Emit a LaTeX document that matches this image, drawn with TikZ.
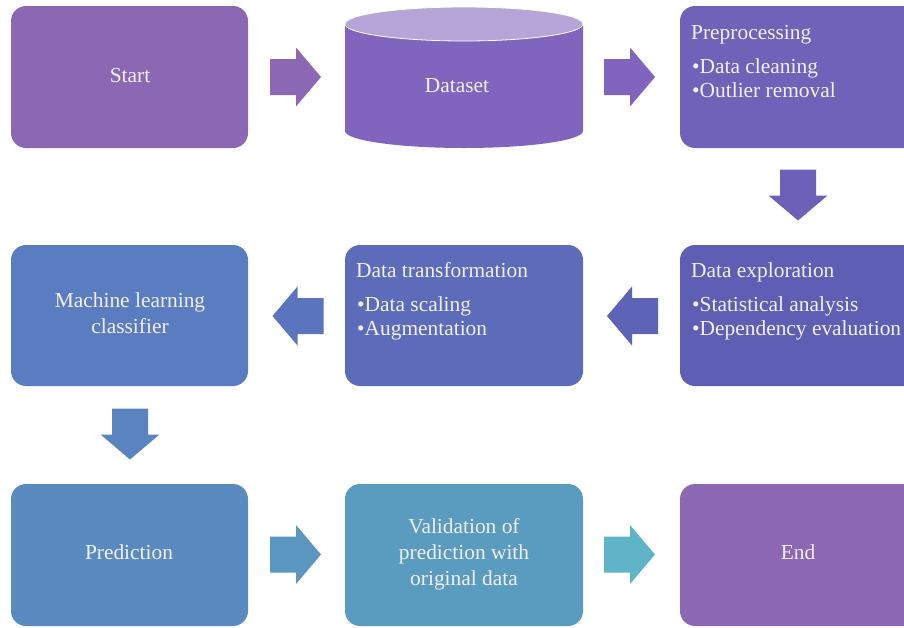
\documentclass[tikz,border=0pt]{standalone}
\usepackage{fontspec}
\setmainfont{Liberation Serif}
\definecolor{cStart}{HTML}{8C67B3}
\definecolor{cData}{HTML}{8064BE}
\definecolor{cDataTop}{HTML}{B5A5D9}
\definecolor{cPre}{HTML}{7061B9}
\definecolor{cA3}{HTML}{6C60B8}
\definecolor{cExp}{HTML}{5F5EB5}
\definecolor{cA4}{HTML}{5D64B8}
\definecolor{cTr}{HTML}{5C6BBA}
\definecolor{cA5}{HTML}{5A74BE}
\definecolor{cML}{HTML}{5A7CC1}
\definecolor{cA6}{HTML}{5A84C0}
\definecolor{cPred}{HTML}{5A8BC0}
\definecolor{cA7}{HTML}{5A96C0}
\definecolor{cVal}{HTML}{5A9BC0}
\definecolor{cA8}{HTML}{5FB4C8}
\definecolor{cEnd}{HTML}{8C67B3}
\definecolor{cTxt}{HTML}{F4F1FA}
\tikzset{
  box/.style={rectangle, rounded corners=15pt, inner sep=0pt, draw=none},
  lbl/.style={text=cTxt, inner sep=0pt, font=\fontsize{21.4}{24}\selectfont},
  barrow/.pic={\path[pic actions] (-25.5,-18) -- (0.5,-18) -- (0.5,-29.5) -- (25.5,0) -- (0.5,29.5) -- (0.5,18) -- (-25.5,18) -- cycle;}
}
\begin{document}
\begin{tikzpicture}[x=1pt,y=-1pt]
\useasboundingbox (0,0) rectangle (904,627);
\clip (0,0) rectangle (904,627);
% boxes
\node[box, fill=cStart, minimum width=237pt, minimum height=142pt] (start) at (129.5,77) {};
\node[box, fill=cPre, minimum width=260pt, minimum height=142pt] (pre) at (810,77) {};
\node[box, fill=cML, minimum width=237pt, minimum height=141pt] (ml) at (129.5,315.5) {};
\node[box, fill=cTr, minimum width=238pt, minimum height=141pt] (tr) at (464,315.5) {};
\node[box, fill=cExp, minimum width=260pt, minimum height=141pt] (exp) at (810,315.5) {};
\node[box, fill=cPred, minimum width=237pt, minimum height=142pt] (pred) at (129.5,555) {};
\node[box, fill=cVal, minimum width=238pt, minimum height=142pt] (val) at (464,555) {};
\node[box, fill=cEnd, minimum width=260pt, minimum height=142pt] (end) at (810,555) {};
% cylinder
\fill[cData] (345,24) -- (345,131) arc[start angle=180, end angle=0, x radius=119, y radius=17] -- (583,24) -- cycle;
\filldraw[fill=cDataTop, draw=white, line width=0.8pt] (464,24) ellipse [x radius=119, y radius=17];
% labels
\node[lbl, anchor=base] (tStart) at (130,82) {Start};
\node[lbl, anchor=base] (tData) at (457,92) {Dataset};
\node[lbl, anchor=base west] (tPre) at (691,39) {Preprocessing};
\node[lbl, anchor=base west] (tPre1) at (692,73) {•Data cleaning};
\node[lbl, anchor=base west] (tPre2) at (692,97) {•Outlier removal};
\node[lbl, anchor=base west] (tExp) at (691,277) {Data exploration};
\node[lbl, anchor=base west] (tExp1) at (692,311) {•Statistical analysis};
\node[lbl, anchor=base west] (tExp2) at (692,335) {•Dependency evaluation};
\node[lbl, anchor=base west] (tTr) at (356,277) {Data transformation};
\node[lbl, anchor=base west] (tTr1) at (357,311) {•Data scaling};
\node[lbl, anchor=base west] (tTr2) at (357,335) {•Augmentation};
\node[lbl, anchor=base] (tML1) at (130,307) {Machine learning};
\node[lbl, anchor=base] (tML2) at (130,333) {classifier};
\node[lbl, anchor=base] (tPred) at (129,559) {Prediction};
\node[lbl, anchor=base] (tVal1) at (464,533) {Validation of};
\node[lbl, anchor=base] (tVal2) at (464,559) {prediction with};
\node[lbl, anchor=base] (tVal3) at (464,585) {original data};
\node[lbl, anchor=base] (tEnd) at (798,559) {End};
% block arrows
\pic[fill=cStart] at (295.5,77) {barrow};
\pic[fill=cData] at (629.5,77) {barrow};
\pic[fill=cA3, rotate=-90] at (798,195) {barrow};
\pic[fill=cA4, rotate=180] at (632.5,316) {barrow};
\pic[fill=cA5, rotate=180] at (298,316) {barrow};
\pic[fill=cA6, rotate=-90] at (130,434) {barrow};
\pic[fill=cA7] at (295.5,554.5) {barrow};
\pic[fill=cA8] at (629.5,554.5) {barrow};
\end{tikzpicture}
\end{document}
